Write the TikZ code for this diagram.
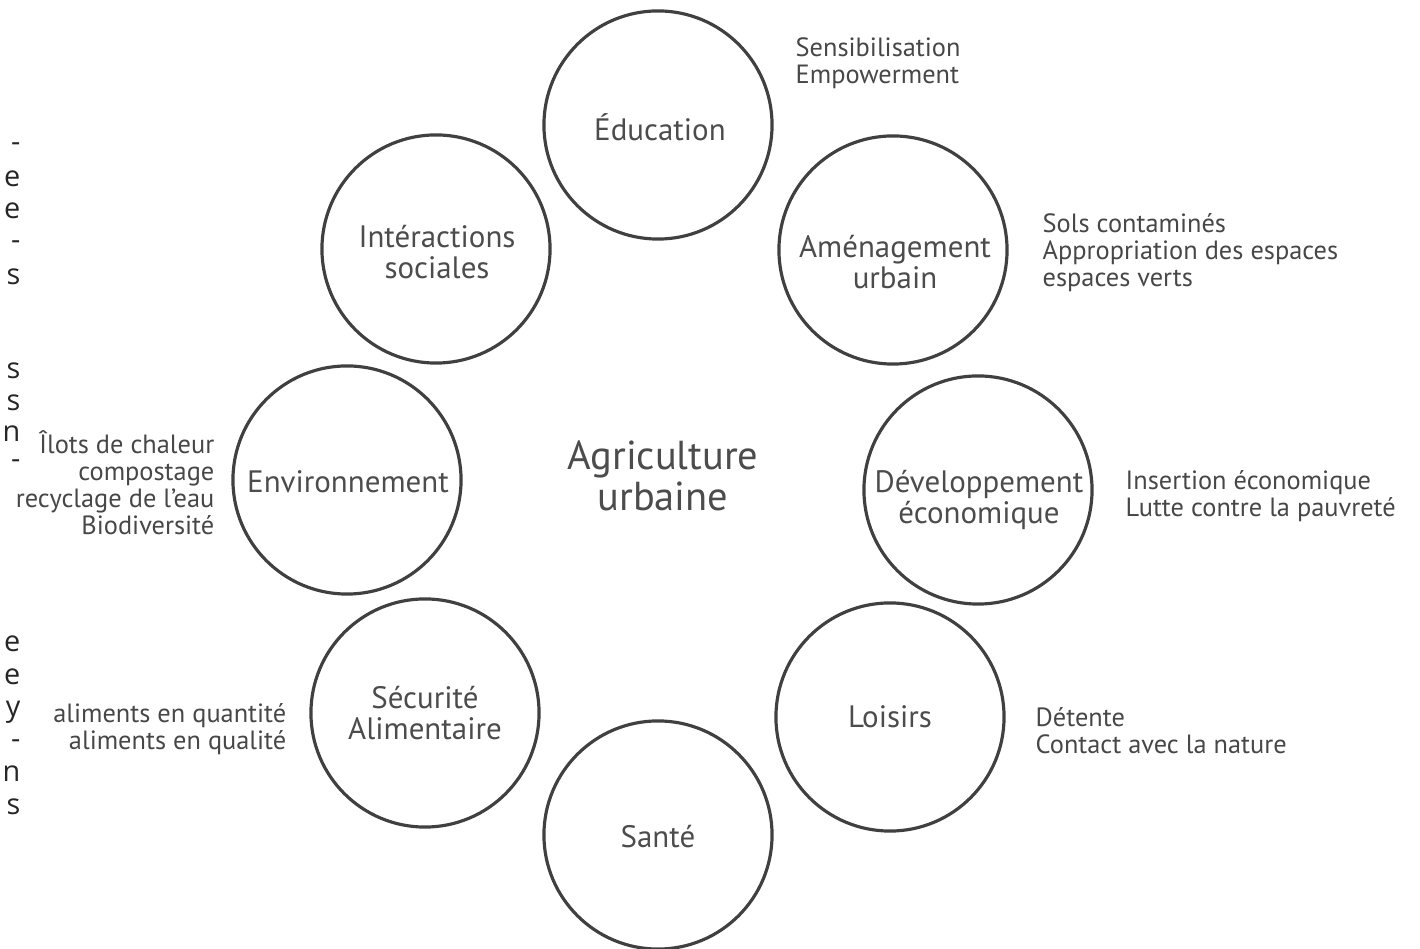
\documentclass[tikz,border=0pt]{standalone}
\usepackage{fontspec}
\setmainfont{PT Sans}
\newfontfamily\fragfont{Open Sans}
\begin{document}
\begin{tikzpicture}[x=0.01cm, y=-0.01cm, line join=round, line cap=round,
	theme/.style={draw=black!75, line width=.9pt, circle, minimum size=2.28cm, inner sep=0pt},
	tag/.style={text=black!70, align=center, inner sep=0pt, font=\fontsize{8.8}{8.9}\selectfont},
	note/.style={text=black!72, inner sep=0pt, font=\fontsize{7.5}{7.7}\selectfont},
	frag/.style={text=black!85, inner sep=0pt, anchor=base east, font=\fragfont\fontsize{8.2}{9}\selectfont}]
	\useasboundingbox (0,0) rectangle (1420,949);
	% cercles
	\node[theme] (edu) at (658,125) {};
	\node[theme] (inter) at (436,249) {};
	\node[theme] (amen) at (893,250) {};
	\node[theme] (env) at (347,480) {};
	\node[theme] (dev) at (978,490) {};
	\node[theme] (secu) at (425,713) {};
	\node[theme] (lois) at (890,717) {};
	\node[theme] (sante) at (658,835) {};
	% textes des cercles
	\node[tag] (edu-t) at (660,127) {Éducation};
	\node[tag] (inter-t) at (437,252) {Intéractions\\sociales};
	\node[tag] (amen-t) at (895,262) {Aménagement\\urbain};
	\node[tag] (env-t) at (348,482) {Environnement};
	\node[tag] (dev-t) at (979,500) {Développement\\économique};
	\node[tag] (secu-t) at (425,713) {Sécurité\\Alimentaire};
	\node[tag] (lois-t) at (890,717) {Loisirs};
	\node[tag] (sante-t) at (658,837) {Santé};
	\node[tag, font=\fontsize{11.5}{10.4}\selectfont] (centre) at (663,476) {Agriculture\\urbaine};
	% notes
	\node[note, anchor=west, align=left] (edu-n) at (795,63) {Sensibilisation\\Empowerment};
	\node[note, anchor=west, align=left] (amen-n) at (1042,253) {Sols contaminés\\Appropriation des espaces\\espaces verts};
	\node[note, anchor=west, align=left] (dev-n) at (1125,496) {Insertion économique\\Lutte contre la pauvreté};
	\node[note, anchor=west, align=left] (lois-n) at (1035,731) {Détente\\Contact avec la nature};
	\node[note, anchor=east, align=right] (secu-n) at (287,729) {aliments en quantité\\aliments en qualité};
	\node[note, anchor=east, align=right] (env-n) at (215,483) {Îlots de chaleur\\compostage\\recyclage de l’eau\\Biodiversité};
	% bord de la page voisine
	\foreach \c/\y [count=\i] in {-/152, e/187, e/219, -/250, s/285, s/379, s/411, n/442, -/469, e/652, e/685, y/717, -/749, n/782, s/815}
		\node[frag] (frag-\i) at (21,\y) {\c};
\end{tikzpicture}
\end{document}
